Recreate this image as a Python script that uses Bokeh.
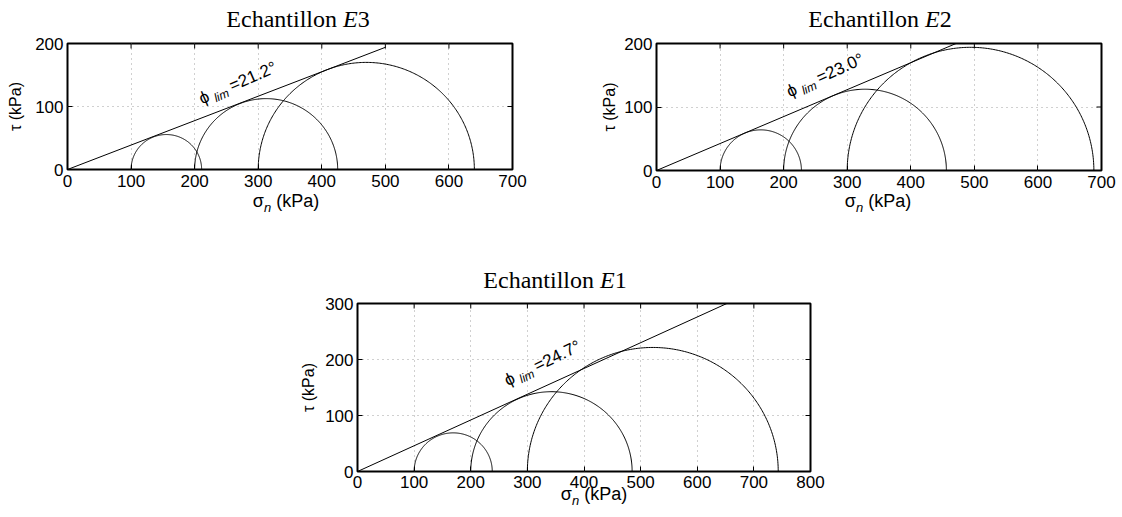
import math
import numpy as np
from bokeh.plotting import figure
from bokeh.models import Range1d, FixedTicker, Label, Spacer, Div
from bokeh.layouts import column, row
from bokeh.embed import file_html
from bokeh.resources import INLINE

# ---------------- data ----------------
E3_SIGMA3 = [100, 200, 300]
E3_SIGMA1 = [211, 425, 640]
E3_PHI = 21.2
E3_LINE_END = 500

E2_SIGMA3 = [100, 200, 300]
E2_SIGMA1 = [228, 456, 688]
E2_PHI = 23.0
E2_LINE_END = 500

E1_SIGMA3 = [100, 200, 300]
E1_SIGMA1 = [238, 485, 743]
E1_PHI = 24.7
E1_LINE_END = 700

X_TICKS_TOP = [0, 100, 200, 300, 400, 500, 600, 700]
Y_TICKS_TOP = [0, 100, 200]
X_TICKS_E1 = [0, 100, 200, 300, 400, 500, 600, 700, 800]
Y_TICKS_E1 = [0, 100, 200, 300]

SANS = "Liberation Sans"
SERIF = "Liberation Serif"
TICK_LEN = 5


def add_pieces(p, x, y, angle, pieces):
    a = math.radians(angle)
    for text, d, h, size, style in pieces:
        dx = d * math.cos(a) - h * math.sin(a)
        dy = d * math.sin(a) + h * math.cos(a)
        p.add_layout(Label(x=x, y=y, x_offset=dx, y_offset=dy, angle=angle,
                           angle_units="deg", text=text, text_font=SANS,
                           text_font_size=size, text_font_style=style,
                           text_align="left", text_baseline="alphabetic",
                           text_color="black"))


def make_panel(sigma3, sigma1, phi, line_end, xmax, ymax, xticks, yticks,
               fw, fh, bl, br, bt, bb, tick_standoff, ylab_standoff,
               phi_xy, phi_angle):
    p = figure(width=bl + fw + br, height=bt + fh + bb,
               x_range=Range1d(0, xmax), y_range=Range1d(0, ymax),
               output_backend="svg", toolbar_location=None,
               min_border_left=bl, min_border_right=br,
               min_border_top=bt, min_border_bottom=bb,
               y_axis_label="τ (kPa)")
    p.background_fill_color = "white"
    p.border_fill_color = "white"
    p.outline_line_color = "black"
    p.outline_line_width = 2

    p.xaxis.ticker = FixedTicker(ticks=xticks)
    p.yaxis.ticker = FixedTicker(ticks=yticks)
    for ax in p.axis:
        ax.major_tick_in = TICK_LEN
        ax.major_tick_out = 0
        ax.minor_tick_line_color = None
        ax.axis_line_color = None
        ax.major_tick_line_color = "black"
        ax.major_tick_line_width = 1
        ax.major_label_text_font = SANS
        ax.major_label_text_font_size = "17px"
        ax.major_label_text_color = "black"
    p.xaxis.major_label_standoff = tick_standoff
    p.yaxis.major_label_standoff = 4
    p.yaxis.axis_label_standoff = ylab_standoff
    p.yaxis.axis_label_text_font = SANS
    p.yaxis.axis_label_text_font_size = "16px"
    p.yaxis.axis_label_text_font_style = "normal"
    p.yaxis.axis_label_text_color = "black"

    for g in (p.xgrid[0], p.ygrid[0]):
        g.grid_line_color = "#a0a0a0"
        g.grid_line_dash = "1 4"
        g.grid_line_width = 1
    p.xgrid[0].ticker = FixedTicker(ticks=xticks)
    p.ygrid[0].ticker = FixedTicker(ticks=yticks)

    # inward ticks on the top and right edges of the box
    dy = TICK_LEN * ymax / fh
    dx = TICK_LEN * xmax / fw
    p.segment(x0=xticks, y0=[ymax] * len(xticks), x1=xticks,
              y1=[ymax - dy] * len(xticks), line_color="black", line_width=1)
    p.segment(x0=[xmax] * len(yticks), y0=yticks, x1=[xmax - dx] * len(yticks),
              y1=yticks, line_color="black", line_width=1)

    # Mohr circles
    t = np.linspace(0, np.pi, 240)
    xs, ys = [], []
    for s3, s1 in zip(sigma3, sigma1):
        c = (s1 + s3) / 2.0
        r = (s1 - s3) / 2.0
        xs.append(c + r * np.cos(t))
        ys.append(r * np.sin(t))
    p.multi_line(xs, ys, line_color="black", line_width=1)

    # failure envelope
    tn = math.tan(math.radians(phi))
    p.line([0, line_end], [0, line_end * tn], line_color="black", line_width=1)

    add_pieces(p, phi_xy[0], phi_xy[1], phi_angle, [
        ("ϕ", 0, 0, "17px", "normal"),
        ("lim", 14, -5, "12px", "italic"),
        ("=%.1f°" % phi, 33, 0, "17px", "normal"),
    ])
    return p


def title_div(name, width, height, cx, top):
    html = ('<div style="position:relative; left:%dpx; top:%dpx; display:inline-block; '
            'transform:translateX(-50%%); white-space:nowrap; font-family:\'%s\'; '
            'font-size:24px; line-height:24px; color:black; margin:0; padding:0;">'
            'Echantillon <i>E</i>%s</div>') % (cx, top, SERIF, name)
    return Div(text=html, width=width, height=height, margin=(0, 0, 0, 0))


def xlabel_div(width, height, cx, top):
    html = ('<div style="position:relative; left:%dpx; top:%dpx; display:inline-block; '
            'transform:translateX(-50%%); white-space:nowrap; font-family:\'%s\'; '
            'font-size:18px; line-height:18px; color:black; margin:0; padding:0;">'
            'σ<span style="position:relative; top:5px; font-size:13px; font-style:italic;">n</span>'
            ' (kPa)</div>') % (cx, top, SANS)
    return Div(text=html, width=width, height=height, margin=(0, 0, 0, 0))


p1 = make_panel(E3_SIGMA3, E3_SIGMA1, E3_PHI, E3_LINE_END, 700, 200,
                X_TICKS_TOP, Y_TICKS_TOP, 445, 126, 67, 48, 7, 26, 5, 8,
                (208, 111), 23.5)
p2 = make_panel(E2_SIGMA3, E2_SIGMA1, E2_PHI, E2_LINE_END, 700, 200,
                X_TICKS_TOP, Y_TICKS_TOP, 445, 127, 96, 20, 7, 25, 5, 3,
                (206, 123), 24.5)
p3 = make_panel(E1_SIGMA3, E1_SIGMA1, E1_PHI, E1_LINE_END, 800, 300,
                X_TICKS_E1, Y_TICKS_E1, 453, 168, 97, 30, 7, 24, 4, 5,
                (261, 161), 26)

col1 = column(title_div("3", 560, 36, 298, 7), p1, xlabel_div(560, 45, 286, -3))
col2 = column(title_div("2", 561, 36, 320, 7), p2, xlabel_div(561, 45, 318, -3))
col3 = column(title_div("1", 580, 56, 295, 28), p3, xlabel_div(580, 22, 334, -10))

layout = column(row(col1, col2), row(Spacer(width=260, height=277), col3))
open("out.html", "w").write(file_html(layout, INLINE))
